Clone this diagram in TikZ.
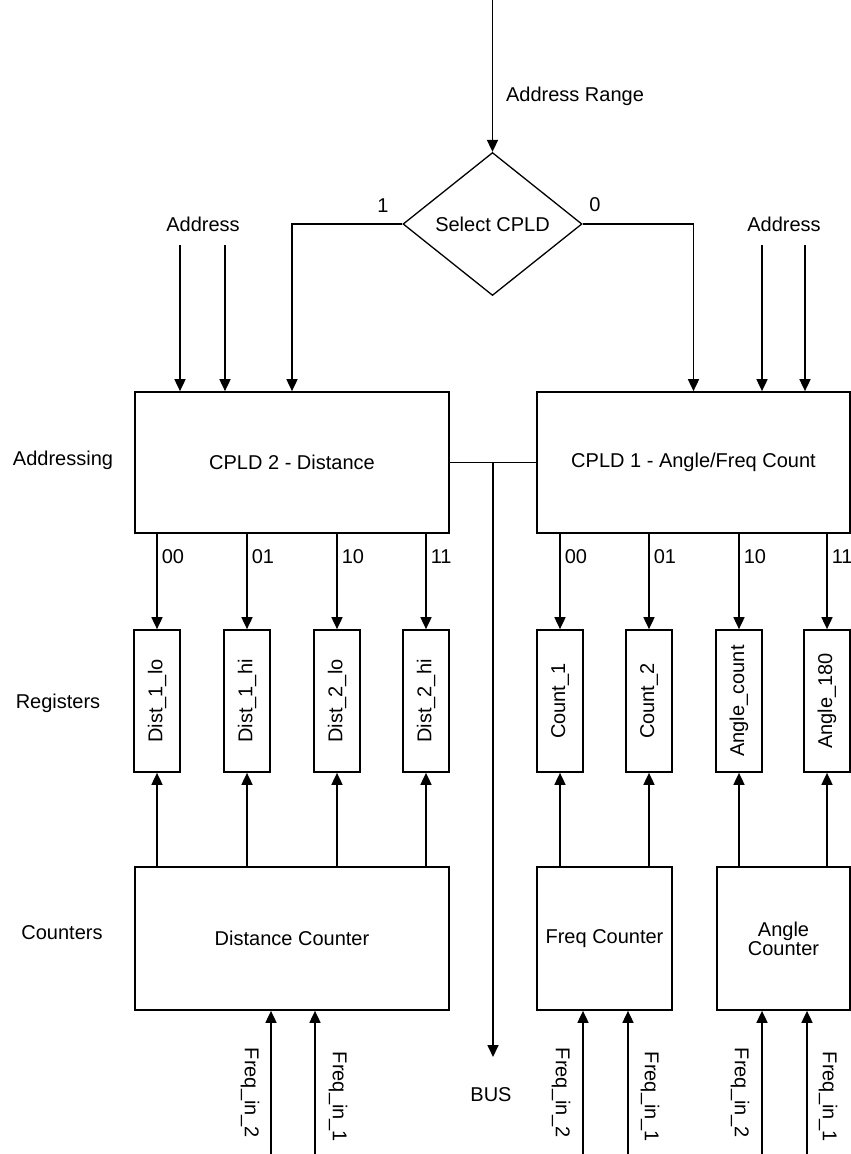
\documentclass[tikz,border=0pt]{standalone}
\usepackage{fontspec}
\setmainfont{Liberation Sans}
\usetikzlibrary{arrows.meta,shapes.geometric}
\begin{document}
\begin{tikzpicture}[x=1pt,y=-1pt,line width=1.7pt,
  arr/.style={-{Triangle[length=12pt,width=11pt]}},
  txt/.style={font=\fontsize{20}{23}\selectfont},
  box/.style={draw,inner sep=0pt,txt,align=center},
  reg/.style={box,minimum width=46pt,minimum height=142pt},
  lbl/.style={txt,inner sep=0pt}]
\useasboundingbox (0,0) rectangle (851,1154);
% diamond
\node[draw,diamond,inner sep=0pt,line width=1.3pt,minimum width=179pt,minimum height=143pt,txt] (sel) at (492.5,224) {Select CPLD};
\coordinate (top) at (492.5,0);
\draw[arr] (top) -- (sel.north);
\node[lbl] (ar) at (575,96) {Address Range};
\node[lbl] (one) at (383,206) {1};
\node[lbl] (zero) at (595,205) {0};
% CPLDs
\node[box,minimum width=314pt,minimum height=141pt] (cpld2) at (292,462.5) {CPLD 2 - Distance};
\node[box,minimum width=313pt,minimum height=141pt] (cpld1) at (693.5,462.5) {CPLD 1 - Angle/Freq Count};
\draw[arr] (sel.west) -| (cpld2.north);
\draw[arr] (sel.east) -| (cpld1.north);
% address inputs
\node[lbl] (addl) at (203,224) {Address};
\node[lbl] (addr) at (784,224) {Address};
\coordinate (a1) at (180,245);
\coordinate (a2) at (225,245);
\coordinate (a3) at (762,245);
\coordinate (a4) at (805,245);
\draw[arr] (a1) -- (a1 |- cpld2.north);
\draw[arr] (a2) -- (a2 |- cpld2.north);
\draw[arr] (a3) -- (a3 |- cpld1.north);
\draw[arr] (a4) -- (a4 |- cpld1.north);
% bus
\draw (cpld2.east) -- (cpld1.west);
\coordinate (bj) at (493,462.5);
\coordinate (be) at (493,1057);
\draw[arr] (bj) -- (be);
\node[lbl] (bus) at (491,1095) {BUS};
% row labels
\node[lbl] (l1) at (63,460) {Addressing};
\node[lbl] (l2) at (58,703) {Registers};
\node[lbl] (l3) at (62,933) {Counters};
% registers
\node[reg] (r1) at (157,701) {\rotatebox{90}{Dist\_1\_lo}};
\node[reg] (r2) at (247,701) {\rotatebox{90}{Dist\_1\_hi}};
\node[reg] (r3) at (337,701) {\rotatebox{90}{Dist\_2\_lo}};
\node[reg] (r4) at (426,701) {\rotatebox{90}{Dist\_2\_hi}};
\node[reg] (r5) at (560,701) {\rotatebox{90}{Count\_1}};
\node[reg] (r6) at (649,701) {\rotatebox{90}{Count\_2}};
\node[reg] (r7) at (739,701) {\rotatebox{90}{Angle\_count}};
\node[reg] (r8) at (827,701) {\rotatebox{90}{Angle\_180}};
\foreach \r/\c/\t in {r1/cpld2/00,r2/cpld2/01,r3/cpld2/10,r4/cpld2/11,r5/cpld1/00,r6/cpld1/01,r7/cpld1/10,r8/cpld1/11}{
  \draw[arr] (\c.south -| \r.north) -- (\r.north);
  \node[lbl,anchor=west] (n\r) at ([xshift=4pt,yshift=-23pt]\c.south -| \r.north) {\t};
}
% counters
\node[box,minimum width=314pt,minimum height=143pt] (dc) at (292,938.5) {Distance Counter};
\node[box,minimum width=135pt,minimum height=143pt] (fc) at (604.5,938.5) {Freq Counter};
\node[box,minimum width=133pt,minimum height=143pt] (ac) at (783.5,938.5) {Angle\\[-4pt]Counter};
\foreach \r/\c in {r1/dc,r2/dc,r3/dc,r4/dc,r5/fc,r6/fc,r7/ac,r8/ac}{
  \draw[arr] (\c.north -| \r.south) -- (\r.south);
}
% frequency inputs
\foreach \n/\x/\c in {f1/271/dc,f2/315/dc,f3/583/fc,f4/628/fc,f5/762/ac,f6/807/ac}{
  \coordinate (\n) at (\x,1154);
  \draw[arr] (\n) -- (\n |- \c.south);
}
\node[lbl,rotate=-90] (q1) at (250,1093) {Freq\_in\_2};
\node[lbl,rotate=-90] (q2) at (338,1097) {Freq\_in\_1};
\node[lbl,rotate=-90] (q3) at (561,1093) {Freq\_in\_2};
\node[lbl,rotate=-90] (q4) at (650,1097) {Freq\_in\_1};
\node[lbl,rotate=-90] (q5) at (740,1093) {Freq\_in\_2};
\node[lbl,rotate=-90] (q6) at (828,1097) {Freq\_in\_1};
\end{tikzpicture}
\end{document}
